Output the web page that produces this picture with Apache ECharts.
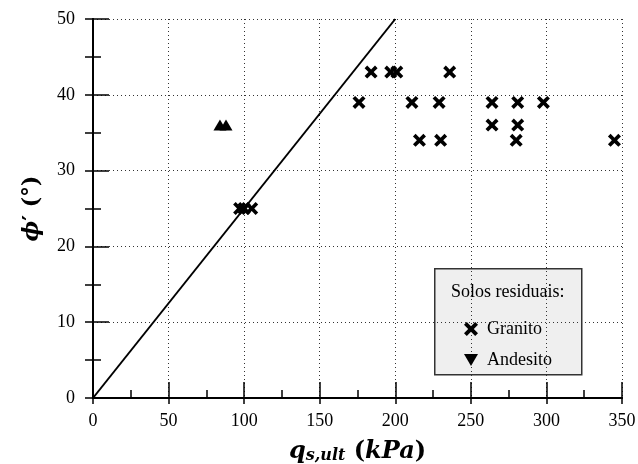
<!DOCTYPE html>
<html>
<head>
<meta charset="utf-8">
<script src="https://cdn.jsdelivr.net/npm/echarts@6/dist/echarts.min.js"></script>
<style>
  html, body { margin: 0; padding: 0; background: #fff; }
  #chart { width: 638px; height: 464px; }
</style>
</head>
<body>
<div id="chart"></div>
<script>
// Granito residual soils: ultimate shaft resistance vs. friction angle
const granitoQ = [97, 100, 105, 176, 184, 197, 201, 211, 216, 229, 230, 236, 264, 264, 280, 281, 281, 298, 345];
const granitoPhi = [25, 25, 25, 39, 43, 43, 43, 39, 34, 39, 34, 43, 39, 36, 34, 39, 36, 39, 34];
// Andesito residual soils
const andesitoQ = [84, 88];
const andesitoPhi = [36, 36];
// Reference line phi = q / 4
const lineQ = [0, 200];
const linePhi = [0, 50];

const xTicks = [0, 50, 100, 150, 200, 250, 300, 350];
const yTicks = [0, 10, 20, 30, 40, 50];

const zip = (a, b) => a.map((v, i) => [v, b[i]]);

const FONT = 'Liberation Serif';
const NAME_FONT = 'DejaVu Serif';
// thick "x" marker
const crossPath = 'path://M4,0 L10,6 L16,0 L20,4 L14,10 L20,16 L16,20 L10,14 L4,20 L0,16 L6,10 L0,4 Z';

const chart = echarts.init(document.getElementById('chart'));

const gridLine = { show: true, lineStyle: { color: '#333', width: 1, type: [1, 3] } };
const tickStyle = { color: '#000', width: 1.5 };

const xBase = {
  type: 'value', min: xTicks[0], max: xTicks[xTicks.length - 1], interval: 50,
  axisLine: { show: true, lineStyle: { color: '#000', width: 2 } },
  axisTick: { inside: true, length: 16, lineStyle: tickStyle },
  minorTick: { show: true, splitNumber: 2, length: 8, lineStyle: tickStyle },
  axisLabel: { show: false },
  splitLine: { show: false }
};
const yBase = {
  type: 'value', min: yTicks[0], max: yTicks[yTicks.length - 1], interval: 10,
  axisLine: { show: true, lineStyle: { color: '#000', width: 2 } },
  axisTick: { inside: true, length: 16, lineStyle: tickStyle },
  minorTick: { show: true, splitNumber: 2, length: 8, lineStyle: tickStyle },
  axisLabel: { show: false },
  splitLine: { show: false }
};
// outward stubs of the major ticks on the left and bottom
const outerTicks = { axisLine: { show: false }, axisTick: { inside: false, length: 6, lineStyle: tickStyle }, minorTick: { show: false } };

chart.setOption({
  animation: false,
  backgroundColor: '#fff',
  grid: { left: 93, right: 16, top: 19, bottom: 66, containLabel: false, outerBoundsMode: 'none' },
  xAxis: [
    Object.assign({}, xBase, {
      position: 'bottom',
      axisLabel: { show: true, color: '#000', fontFamily: FONT, fontSize: 18, margin: 14 },
      splitLine: gridLine,
      name: '{q|q}{s|s,ult}{p| (}{q|kPa}{p|)}',
      nameLocation: 'middle',
      nameGap: 41,
      nameTextStyle: {
        rich: {
          q: { fontFamily: NAME_FONT, fontStyle: 'italic', fontWeight: 'bold', fontSize: 24, color: '#000' },
          s: { fontFamily: NAME_FONT, fontStyle: 'italic', fontWeight: 'bold', fontSize: 16, color: '#000', padding: [9, 0, 0, 0] },
          p: { fontFamily: NAME_FONT, fontWeight: 'bold', fontSize: 24, color: '#000' }
        }
      }
    }),
    Object.assign({}, xBase, {
      position: 'top',
      axisTick: { show: false },
      minorTick: { show: false }
    }),
    Object.assign({}, xBase, { position: 'bottom' }, outerTicks)
  ],
  yAxis: [
    Object.assign({}, yBase, {
      position: 'left',
      axisLabel: { show: true, color: '#000', fontFamily: FONT, fontSize: 18, margin: 18 },
      splitLine: gridLine,
      name: "{a|ϕ}{b|′ (°)}",
      nameLocation: 'middle',
      nameGap: 50,
      nameRotate: 90,
      nameTextStyle: {
        rich: {
          a: { fontFamily: NAME_FONT, fontStyle: 'italic', fontWeight: 'bold', fontSize: 22, color: '#000' },
          b: { fontFamily: NAME_FONT, fontWeight: 'bold', fontSize: 22, color: '#000' }
        }
      }
    }),
    Object.assign({}, yBase, {
      position: 'right',
      axisTick: { inside: true, length: 8, lineStyle: tickStyle }
    }),
    Object.assign({}, yBase, { position: 'left' }, outerTicks)
  ],
  legend: {
    left: 459, top: 315,
    orient: 'vertical',
    itemWidth: 14, itemHeight: 14, itemGap: 13,
    data: [
      { name: 'Granito', icon: crossPath },
      { name: 'Andesito', icon: 'path://M0,0 L20,0 L10,17 Z' }
    ],
    itemStyle: { opacity: 1 },
    textStyle: { fontFamily: FONT, fontSize: 18, color: '#000', padding: [0, 0, 0, 4] }
  },
  graphic: [
    {
      type: 'rect', left: 434, top: 268, z: 0,
      shape: { width: 147, height: 106 },
      style: { fill: '#efefef', stroke: '#333', lineWidth: 1.5 }
    },
    {
      type: 'text', left: 451, top: 283, z: 1,
      style: { text: 'Solos residuais:', fontFamily: FONT, fontSize: 18, fill: '#000' }
    }
  ],
  series: [
    {
      type: 'line', name: 'linha', data: zip(lineQ, linePhi),
      showSymbol: false, symbol: 'none',
      lineStyle: { color: '#000', width: 2 },
      z: 3
    },
    {
      type: 'scatter', name: 'Granito', data: zip(granitoQ, granitoPhi),
      symbol: crossPath, symbolSize: 13,
      itemStyle: { color: '#000', opacity: 1 }, z: 4
    },
    {
      type: 'scatter', name: 'Andesito', data: zip(andesitoQ, andesitoPhi),
      symbol: 'triangle', symbolSize: [13, 11],
      itemStyle: { color: '#000', opacity: 1 }, z: 4
    }
  ]
});
</script>
</body>
</html>
